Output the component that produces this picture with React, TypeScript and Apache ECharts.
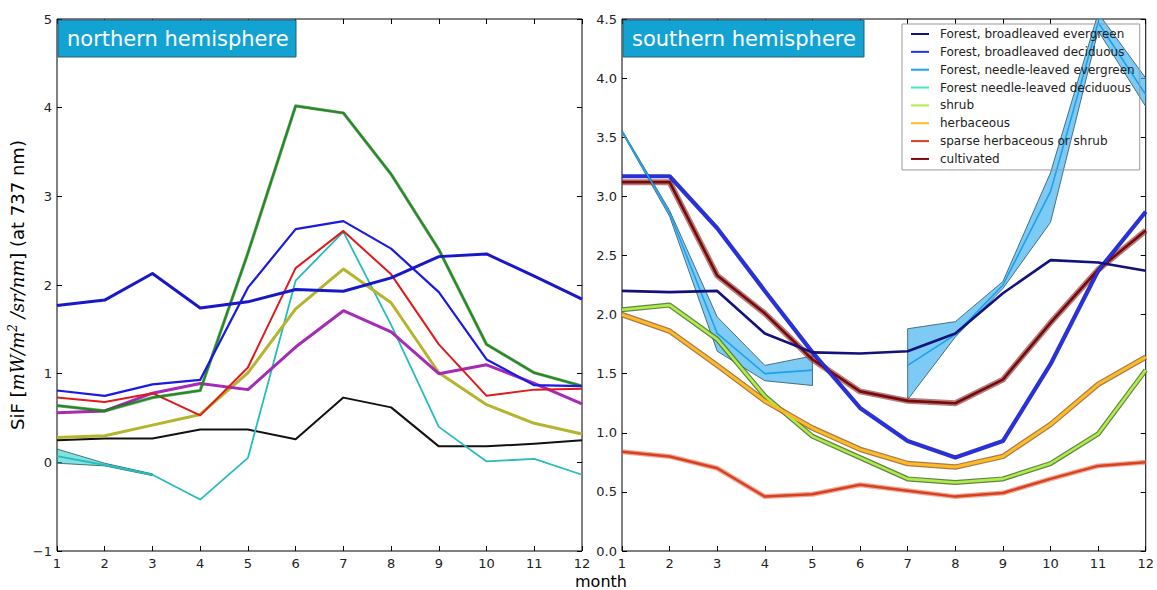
import React, { useEffect, useRef } from "react";
import * as echarts from "echarts";

const FONT = "'DejaVu Sans', sans-serif";

const months = [1, 2, 3, 4, 5, 6, 7, 8, 9, 10, 11, 12];

// ---------- northern hemisphere ----------
const nBlueA = [1.77, 1.83, 2.13, 1.74, 1.81, 1.95, 1.93, 2.08, 2.32, 2.35, 2.1, 1.84];
const nBlueB = [0.81, 0.75, 0.88, 0.93, 1.97, 2.63, 2.72, 2.41, 1.92, 1.16, 0.87, 0.86];
const nGreen = [0.64, 0.58, 0.73, 0.81, 2.36, 4.02, 3.94, 3.25, 2.4, 1.33, 1.01, 0.86];
const nRed = [0.73, 0.68, 0.78, 0.53, 1.07, 2.19, 2.61, 2.12, 1.33, 0.75, 0.82, 0.83];
const nCyan = [0.07, -0.03, -0.14, -0.42, 0.05, 2.05, 2.6, 1.55, 0.4, 0.01, 0.04, -0.14];
const nCyanLo = [-0.01, -0.04, -0.15];
const nCyanHi = [0.15, -0.01, -0.13];
const nMagenta = [0.56, 0.58, 0.78, 0.89, 0.82, 1.3, 1.71, 1.47, 1.0, 1.1, 0.89, 0.66];
const nOlive = [0.28, 0.3, 0.42, 0.54, 1.01, 1.73, 2.18, 1.8, 1.01, 0.65, 0.44, 0.32];
const nBlack = [0.25, 0.27, 0.27, 0.37, 0.37, 0.26, 0.73, 0.62, 0.18, 0.18, 0.21, 0.25];

// ---------- southern hemisphere ----------
const legendNames = [
  "Forest, broadleaved evergreen",
  "Forest, broadleaved deciduous",
  "Forest, needle-leaved evergreen",
  "Forest needle-leaved deciduous",
  "shrub",
  "herbaceous",
  "sparse herbaceous or shrub",
  "cultivated",
];
const sBroadEver = [2.2, 2.19, 2.2, 1.84, 1.68, 1.67, 1.69, 1.84, 2.18, 2.46, 2.44, 2.37];
const sBroadDec = [3.17, 3.17, 2.73, 2.2, 1.68, 1.21, 0.93, 0.79, 0.93, 1.58, 2.37, 2.87];
const sNeedleEver = [3.55, 2.86, 1.84, 1.5, 1.53, null, 1.57, 1.83, 2.25, 3.04, 4.47, 3.86];
const sNeedleEverLo = [3.54, 2.83, 1.69, 1.44, 1.4, null, 1.28, 1.81, 2.22, 2.78, 4.4, 3.76];
const sNeedleEverHi = [3.56, 2.88, 1.98, 1.57, 1.65, null, 1.88, 1.94, 2.28, 3.2, 4.55, 4.0];
const sNeedleDec: (number | null)[] = [];
const sShrub = [2.04, 2.08, 1.79, 1.31, 0.97, 0.79, 0.61, 0.58, 0.61, 0.74, 0.99, 1.53];
const sHerb = [2.0, 1.86, 1.57, 1.27, 1.04, 0.86, 0.74, 0.71, 0.8, 1.07, 1.41, 1.64];
const sSparse = [0.84, 0.8, 0.7, 0.46, 0.48, 0.56, 0.51, 0.46, 0.49, 0.61, 0.72, 0.75];
const sCult = [3.12, 3.12, 2.33, 2.01, 1.62, 1.35, 1.27, 1.25, 1.45, 1.93, 2.38, 2.71];

function line(name: string, data: (number | null)[], color: string, width: number, xi: number, yi: number, z = 2) {
  return {
    type: "line",
    name,
    xAxisIndex: xi,
    yAxisIndex: yi,
    data: data.map((v, i) => [months[i], v]),
    symbol: "none",
    showSymbol: false,
    lineStyle: { color, width, join: "round" },
    itemStyle: { color },
    z,
    clip: true,
    silent: true,
  };
}

function band(xi: number, yi: number, lo: (number | null)[], hi: (number | null)[], fill: string, stroke: string, z = 1) {
  const runs: number[][] = [];
  let start = -1;
  for (let i = 0; i <= lo.length; i++) {
    const ok = i < lo.length && lo[i] != null && hi[i] != null;
    if (ok && start < 0) start = i;
    if (!ok && start >= 0) {
      runs.push([start, i - 1]);
      start = -1;
    }
  }
  return {
    type: "custom",
    xAxisIndex: xi,
    yAxisIndex: yi,
    clip: true,
    silent: true,
    z,
    data: runs.map((r) => [months[r[0]], lo[r[0]]]),
    renderItem: (params: any, api: any) => {
      const [a, b] = runs[params.dataIndex];
      const pts: number[][] = [];
      for (let i = a; i <= b; i++) pts.push(api.coord([months[i], hi[i]]));
      for (let i = b; i >= a; i--) pts.push(api.coord([months[i], lo[i]]));
      return { type: "polygon", shape: { points: pts }, style: { fill, stroke, lineWidth: 1 } };
    },
  };
}

function xAxes(grid: number) {
  const base = {
    type: "value",
    gridIndex: grid,
    min: 1,
    max: 12,
    interval: 1,
    axisLine: { show: false, onZero: false },
    axisTick: { inside: true, length: 5, lineStyle: { color: "#000" } },
    splitLine: { show: false },
  };
  return [
    { ...base, position: "bottom", axisLabel: { fontSize: 13, color: "#222", fontFamily: FONT, margin: 6 } },
    { ...base, position: "top", axisLabel: { show: false } },
  ];
}

function yAxes(grid: number, min: number, max: number, interval: number, fmt: (v: number) => string, extra: any = {}) {
  const base = {
    type: "value",
    gridIndex: grid,
    min,
    max,
    interval,
    axisLine: { show: false, onZero: false },
    axisTick: { inside: true, length: 5, lineStyle: { color: "#000" } },
    splitLine: { show: false },
  };
  return [
    { ...base, ...extra, position: "left", axisLabel: { fontSize: 13, color: "#222", fontFamily: FONT, margin: 5, formatter: fmt } },
    { ...base, position: "right", axisLabel: { show: false } },
  ];
}

const LINE_ICON = "path://M0,0 L18,0 L18,2 L0,2 Z";

export default function App() {
  const ref = useRef<HTMLDivElement>(null);
  useEffect(() => {
    if (!ref.current) return;
    const chart = echarts.init(ref.current, null, { renderer: "svg" });
    const titleBox = (x: number, w: number, text: string) => [
      {
        type: "rect",
        shape: { x, y: 20, width: w, height: 37 },
        style: { fill: "#13a3d3", stroke: "#2b5f73", lineWidth: 1 },
        z: 100,
      },
      {
        type: "text",
        x: x + 9,
        y: 38.5,
        style: { text, fill: "#fff", font: `21px ${FONT}`, textVerticalAlign: "middle" },
        z: 101,
      },
    ];
    const option: any = {
      animation: false,
      backgroundColor: "#fff",
      grid: [
        { left: 57, right: 575, top: 19, bottom: 39, show: true, borderColor: "#000", borderWidth: 1, backgroundColor: "transparent" },
        { left: 622, right: 10, top: 19, bottom: 39, show: true, borderColor: "#000", borderWidth: 1, backgroundColor: "transparent" },
      ],
      xAxis: [...xAxes(0), ...xAxes(1)],
      yAxis: [
        ...yAxes(0, -1, 5, 1, (v: number) => (v < 0 ? "\u2212" + Math.abs(v) : String(v)), {
          name: "SiF [{i|mW/m}{s|2}{i| /sr/nm}] (at 737 nm)",
          nameLocation: "middle",
          nameGap: 29,
          nameRotate: 90,
          nameTextStyle: {
            fontFamily: FONT,
            fontSize: 18,
            color: "#000",
            rich: {
              i: { fontFamily: "'DejaVu Serif', serif", fontStyle: "italic", fontSize: 18, color: "#000" },
              s: { fontFamily: "'DejaVu Serif', serif", fontStyle: "italic", fontSize: 12, color: "#000", padding: [0, 0, 9, 0] },
            },
          },
        }),
        ...yAxes(1, 0, 4.5, 0.5, (v: number) => v.toFixed(1)),
      ],
      legend: {
        data: legendNames.map((n) => ({ name: n, icon: LINE_ICON })),
        orient: "vertical",
        left: 902,
        top: 24,
        padding: [3, 5, 4, 9],
        itemWidth: 18,
        itemHeight: 14,
        itemGap: 3.85,
        backgroundColor: "transparent",
        borderColor: "#999",
        borderWidth: 1,
        borderRadius: 0,
        textStyle: { fontFamily: FONT, fontSize: 12, color: "#222", padding: [0, 0, 0, 6], lineHeight: 14 },
        selectedMode: false,
      },
      graphic: [
        ...titleBox(58, 238, "northern hemisphere"),
        ...titleBox(623, 241, "southern hemisphere"),
        {
          type: "text",
          x: 601,
          y: 581,
          style: { text: "month", fill: "#000", font: `16px ${FONT}`, textAlign: "center", textVerticalAlign: "middle" },
        },
      ],
      series: [
        // northern
        band(0, 0, nCyanLo, nCyanHi, "rgba(32,200,200,0.55)", "rgba(30,90,90,0.8)"),
        line("nBlack", nBlack, "#111", 2, 0, 0),
        line("nCyan", nCyan, "#26bcbc", 1.8, 0, 0),
        line("nOlive", nOlive, "#b4b42e", 3, 0, 0),
        line("nMagenta", nMagenta, "#a52ab5", 3, 0, 0),
        line("nRed", nRed, "#e0191c", 2, 0, 0),
        line("nGreenU", nGreen, "rgba(20,90,20,0.55)", 3.2, 0, 0),
        line("nGreen", nGreen, "#1f8c1f", 2, 0, 0),
        line("nBlueB", nBlueB, "#1a1ae0", 2.2, 0, 0),
        line("nBlueA", nBlueA, "#1818c8", 3, 0, 0),
        // southern
        band(2, 2, sNeedleEverLo, sNeedleEverHi, "rgba(70,180,240,0.7)", "rgba(50,90,110,0.85)"),
        line("uSparse", sSparse, "rgba(230,110,80,0.6)", 5, 2, 2),
        line(legendNames[6], sSparse, "#d8401f", 2.5, 2, 2, 3),
        line("uShrub", sShrub, "rgba(70,110,40,0.85)", 5, 2, 2),
        line(legendNames[4], sShrub, "#b0ec4a", 2.6, 2, 2, 3),
        line("uHerb", sHerb, "rgba(150,100,50,0.85)", 5.5, 2, 2),
        line(legendNames[5], sHerb, "#ffbc22", 3, 2, 2, 3),
        line("uCult", sCult, "rgba(150,70,70,0.7)", 6, 2, 2),
        line(legendNames[7], sCult, "#7a0a0a", 2.6, 2, 2, 3),
        line("uBroadDec", sBroadDec, "rgba(20,20,140,0.85)", 4.2, 2, 2),
        line(legendNames[1], sBroadDec, "#2230f5", 2.4, 2, 2, 3),
        line(legendNames[2], sNeedleEver, "#1ea0ea", 1.6, 2, 2, 3),
        line(legendNames[3], sNeedleDec, "#45e6c0", 2, 2, 2, 3),
        line(legendNames[0], sBroadEver, "#12127a", 2.6, 2, 2, 3),
      ],
    };
    chart.setOption(option);
    return () => chart.dispose();
  }, []);
  return (
    <div
      ref={ref}
      style={{ position: "fixed", left: 0, top: 0, width: 1157, height: 590, background: "#fff" }}
    />
  );
}
